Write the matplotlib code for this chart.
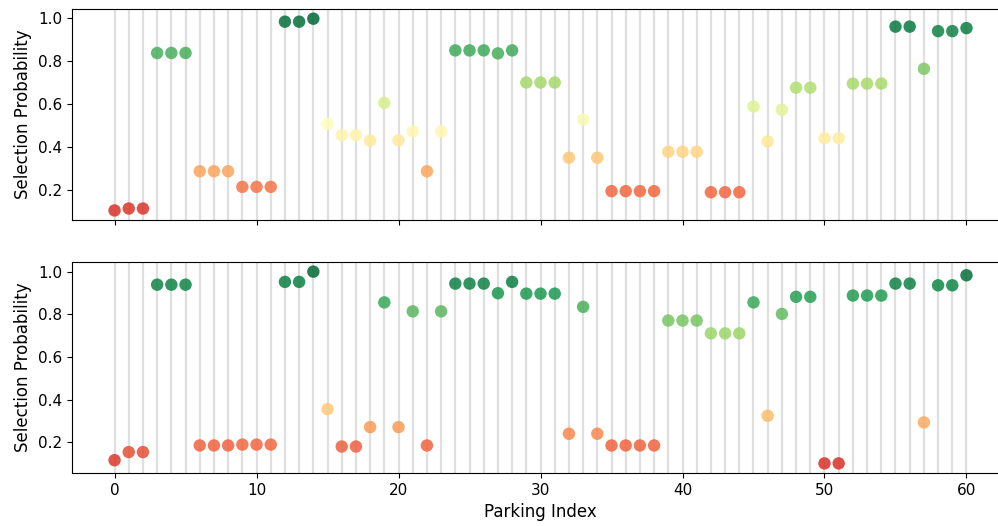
import numpy as np
import matplotlib
matplotlib.use("Agg")
import matplotlib.pyplot as plt

# Parking indices 0..60
parking_index = list(range(61))

# Selection probabilities, top panel
prob_top = [
    0.103, 0.112, 0.112, 0.838, 0.838, 0.838, 0.286, 0.286, 0.286, 0.213,
    0.213, 0.213, 0.984, 0.984, 0.998, 0.507, 0.454, 0.454, 0.429, 0.605,
    0.430, 0.472, 0.286, 0.472, 0.850, 0.850, 0.850, 0.836, 0.850, 0.700,
    0.700, 0.700, 0.349, 0.527, 0.349, 0.193, 0.193, 0.193, 0.193, 0.377,
    0.377, 0.377, 0.188, 0.188, 0.188, 0.588, 0.425, 0.573, 0.676, 0.676,
    0.440, 0.440, 0.695, 0.695, 0.695, 0.961, 0.961, 0.764, 0.940, 0.940,
    0.954,
]

# Selection probabilities, bottom panel
prob_bottom = [
    0.117, 0.155, 0.155, 0.939, 0.939, 0.939, 0.186, 0.186, 0.186, 0.190,
    0.190, 0.190, 0.952, 0.952, 1.000, 0.356, 0.181, 0.181, 0.272, 0.856,
    0.272, 0.814, 0.186, 0.814, 0.944, 0.944, 0.944, 0.899, 0.952, 0.897,
    0.897, 0.897, 0.241, 0.835, 0.241, 0.186, 0.186, 0.186, 0.186, 0.771,
    0.771, 0.771, 0.711, 0.711, 0.711, 0.856, 0.325, 0.802, 0.882, 0.882,
    0.102, 0.102, 0.888, 0.888, 0.888, 0.944, 0.944, 0.294, 0.936, 0.936,
    0.983,
]

fig = plt.figure(figsize=(9.98, 5.26), dpi=100)
ax_top = fig.add_axes([0.0721, 0.5817, 0.939, 0.401])
ax_bot = fig.add_axes([0.0721, 0.1008, 0.939, 0.401], sharex=ax_top)

for ax, probs in [(ax_top, prob_top), (ax_bot, prob_bottom)]:
    for i in parking_index:
        ax.axvline(i, color="gray", alpha=0.25, linewidth=1.6, zorder=1)
    ax.scatter(parking_index, probs, c=probs, cmap="RdYlGn", vmin=0, vmax=1,
               s=80, alpha=0.85, edgecolors="none", zorder=2)
    ax.set_ylabel("Selection Probability", fontsize=12)
    ax.set_yticks([0.2, 0.4, 0.6, 0.8, 1.0])
    ax.tick_params(labelsize=11)

ax_top.set_xlim(-3, 63)
ax_top.tick_params(labelbottom=False)
ax_bot.set_xlabel("Parking Index", fontsize=12)

plt.savefig("out.png", dpi=100)
